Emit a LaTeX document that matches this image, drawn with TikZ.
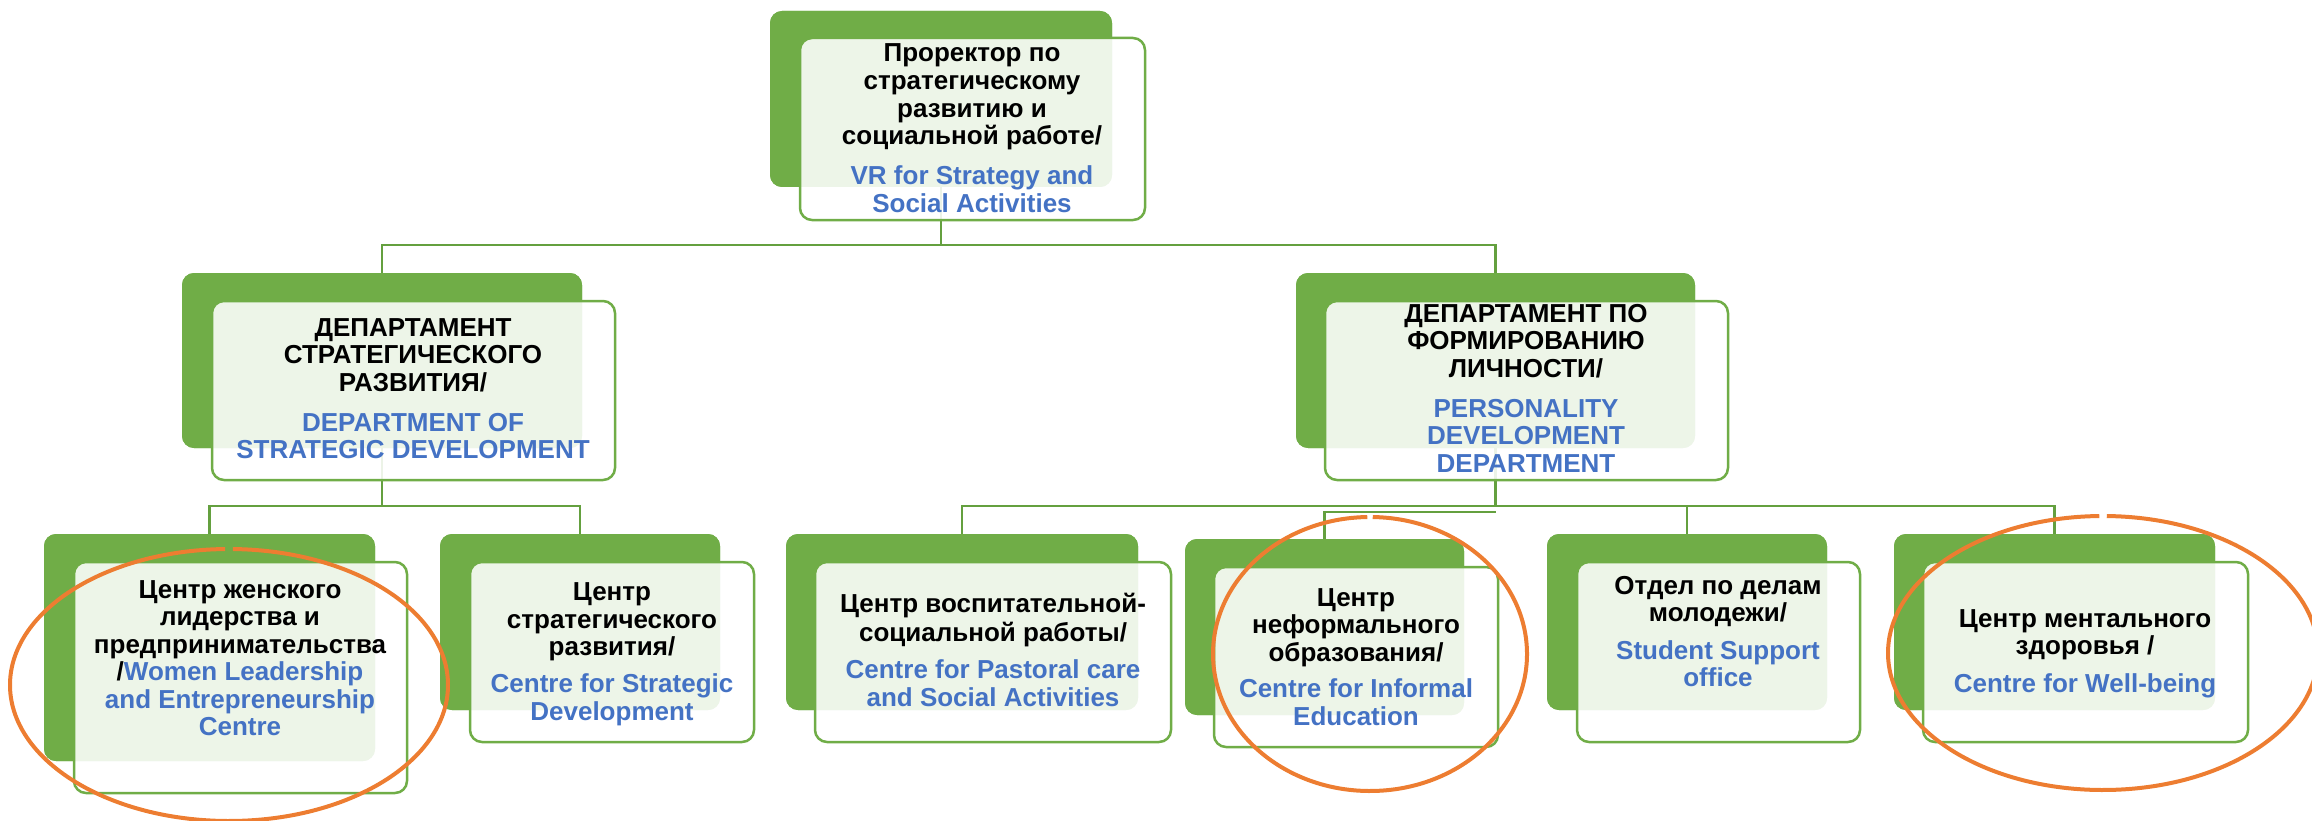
\documentclass[tikz,border=0pt]{standalone}
\usepackage{fontspec}
\setmainfont{Liberation Sans}
\definecolor{grn}{HTML}{70AD47}
\definecolor{grnd}{HTML}{64A03F}
\definecolor{blu}{HTML}{4472C4}
\definecolor{org}{HTML}{ED7D31}
\begin{document}
\begin{tikzpicture}[x=1pt,y=-1pt,
  gbox/.style={fill=grn, rounded corners=12pt, inner sep=0pt, outer sep=0pt, anchor=north west},
  wbox/.style={fill=white, fill opacity=0.88, draw=grn, line width=2.5pt, rounded corners=12pt, inner sep=0pt, outer sep=0pt, anchor=north west},
  txt/.style={align=center, font=\fontsize{26}{27.5}\selectfont\bfseries, inner sep=0pt, text=black},
  conn/.style={draw=grnd, line width=2.5pt},
  ell/.style={draw=org, line width=4pt}]
\useasboundingbox (0,0) rectangle (2312,821);
% green back plates (named, used by connectors)
\path
 node[gbox, minimum width=342pt, minimum height=176pt] (gT) at (770,11) {}
 node[gbox, minimum width=400pt, minimum height=175pt] (gL) at (182,273) {}
 node[gbox, minimum width=399pt, minimum height=175pt] (gR) at (1296,273) {}
 node[gbox, minimum width=331pt, minimum height=227pt] (g1) at (44,534) {}
 node[gbox, minimum width=280pt, minimum height=176pt] (g2) at (440,534) {}
 node[gbox, minimum width=352pt, minimum height=176pt] (g3) at (786,534) {}
 node[gbox, minimum width=279pt, minimum height=176pt] (g4) at (1185,539) {}
 node[gbox, minimum width=280pt, minimum height=176pt] (g5) at (1547,534) {}
 node[gbox, minimum width=321pt, minimum height=176pt] (g6) at (1894,534) {};
% connectors
\coordinate (busT) at (0,245);
\coordinate (busB) at (0,506);
\coordinate (busF) at (0,512);
\draw[conn] (gT.south) -- (gT.south |- busT) -| (gL.north);
\draw[conn] (gT.south |- busT) -| (gR.north);
\draw[conn] (gL.south) -- (gL.south |- busB) -| (g1.north);
\draw[conn] (gL.south |- busB) -| (g2.north);
\draw[conn] (gR.south) -- (gR.south |- busB) -| (g3.north);
\draw[conn] (gR.south |- busB) -| (g5.north);
\draw[conn] (gR.south |- busB) -| (g6.north);
\draw[conn] (gR.south |- busF) -| (g4.north);
% redraw green plates over connectors
\foreach \n/\x/\y/\w/\h in {T/770/11/342/176, L/182/273/400/175, R/1296/273/399/175,
  1/44/534/331/227, 2/440/534/280/176, 3/786/534/352/176, 4/1185/539/279/176,
  5/1547/534/280/176, 6/1894/534/321/176}
  \node[gbox, minimum width=\w pt, minimum height=\h pt] (gg\n) at (\x,\y) {};
% white front boxes
\path
 node[wbox, minimum width=345pt, minimum height=182pt] (wT) at (800,38) {}
 node[wbox, minimum width=403pt, minimum height=179pt] (wL) at (212,301) {}
 node[wbox, minimum width=403pt, minimum height=179pt] (wR) at (1325,301) {}
 node[wbox, minimum width=333pt, minimum height=231pt] (w1) at (74,562) {}
 node[wbox, minimum width=284pt, minimum height=180pt] (w2) at (470,562) {}
 node[wbox, minimum width=356pt, minimum height=180pt] (w3) at (815,562) {}
 node[wbox, minimum width=284pt, minimum height=180pt] (w4) at (1214,567) {}
 node[wbox, minimum width=283pt, minimum height=180pt] (w5) at (1577,562) {}
 node[wbox, minimum width=325pt, minimum height=180pt] (w6) at (1923,562) {};
% texts
\node[txt] (tT) at (972,131.5) {\strut Проректор по\\стратегическому\\развитию и\\социальной работе/\\[12.5pt]
  \textcolor{blu}{VR for Strategy and}\\\textcolor{blu}{Social Activities}\strut};
\node[txt] (tL) at (413,392) {\strut ДЕПАРТАМЕНТ\\СТРАТЕГИЧЕСКОГО\\РАЗВИТИЯ/\\[12.5pt]
  \textcolor{blu}{DEPARTMENT OF}\\\textcolor{blu}{STRATEGIC DEVELOPMENT}\strut};
\node[txt] (tR) at (1526,391.5) {\strut ДЕПАРТАМЕНТ ПО\\ФОРМИРОВАНИЮ\\ЛИЧНОСТИ/\\[12.5pt]
  \textcolor{blu}{PERSONALITY}\\\textcolor{blu}{DEVELOPMENT}\\\textcolor{blu}{DEPARTMENT}\strut};
\node[txt] (t1) at (240,661.5) {\strut Центр женского\\лидерства и\\предпринимательства\\/\textcolor{blu}{Women Leadership}\\
  \textcolor{blu}{and Entrepreneurship}\\\textcolor{blu}{Centre}\strut};
\node[txt] (t2) at (612,655) {\strut Центр\\стратегического\\развития/\\[9.5pt]
  \textcolor{blu}{Centre for Strategic}\\\textcolor{blu}{Development}\strut};
\node[txt] (t3) at (993,654) {\strut Центр воспитательной-\\социальной работы/\\[10pt]
  \textcolor{blu}{Centre for Pastoral care}\\\textcolor{blu}{and Social Activities}\strut};
\node[txt] (t4) at (1356,660) {\strut Центр\\неформального\\образования/\\[9pt]
  \textcolor{blu}{Centre for Informal}\\\textcolor{blu}{Education}\strut};
\node[txt] (t5) at (1718,635) {\strut Отдел по делам\\молодежи/\\[10pt]
  \textcolor{blu}{Student Support}\\\textcolor{blu}{office}\strut};
\node[txt] (t6) at (2085,654) {\strut Центр ментального\\здоровья /\\[10pt]
  \textcolor{blu}{Centre for Well-being}\strut};
% orange highlight ellipses
\draw[ell] ([shift={(91:219pt and 136pt)}]229,685) arc[start angle=91, end angle=449, x radius=219pt, y radius=136pt];
\draw[ell] ([shift={(91:157pt and 137pt)}]1370,654) arc[start angle=91, end angle=449, x radius=157pt, y radius=137pt];
\draw[ell] ([shift={(91:215pt and 137pt)}]2103,653) arc[start angle=91, end angle=449, x radius=215pt, y radius=137pt];
\end{tikzpicture}
\end{document}
